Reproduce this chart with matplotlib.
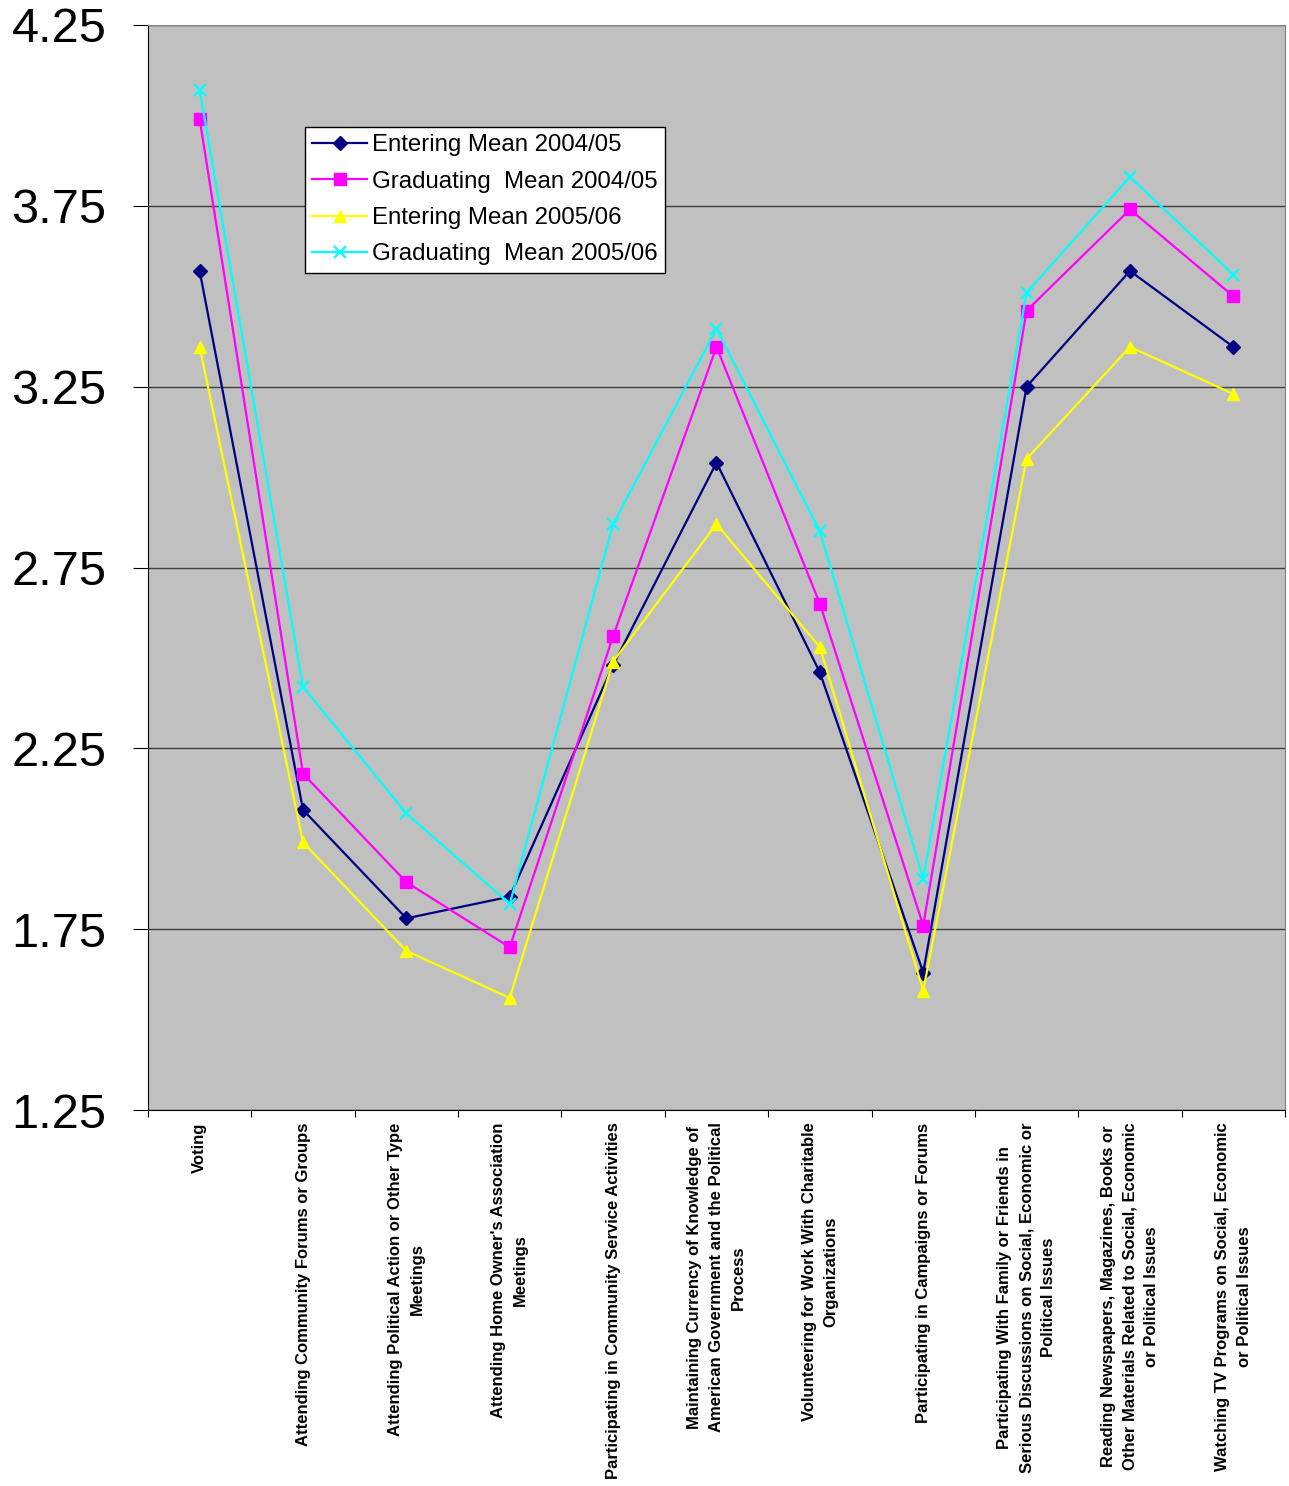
import numpy as np
import matplotlib.pyplot as plt
import matplotlib as mpl

mpl.rcParams['font.family'] = ['Liberation Sans', 'DejaVu Sans']

categories = [
    "Voting",
    "Attending Community Forums or Groups",
    "Attending Political Action or Other Type\nMeetings",
    "Attending Home Owner's Association\nMeetings",
    "Participating in Community Service Activities",
    "Maintaining Currency of Knowledge of\nAmerican Government and the Political\nProcess",
    "Volunteering for Work With Charitable\nOrganizations",
    "Participating in Campaigns or Forums",
    "Participating With Family or Friends in\nSerious Discussions on Social, Economic or\nPolitical Issues",
    "Reading Newspapers, Magazines, Books or\nOther Materials Related to Social, Economic\nor Political Issues",
    "Watching TV Programs on Social, Economic\nor Political Issues",
]

entering_0405 = [3.57, 2.08, 1.78, 1.84, 2.48, 3.04, 2.46, 1.63, 3.25, 3.57, 3.36]
graduating_0405 = [3.99, 2.18, 1.88, 1.70, 2.56, 3.36, 2.65, 1.76, 3.46, 3.74, 3.50]
entering_0506 = [3.36, 1.99, 1.69, 1.56, 2.49, 2.87, 2.53, 1.58, 3.05, 3.36, 3.23]
graduating_0506 = [4.07, 2.42, 2.07, 1.82, 2.87, 3.41, 2.85, 1.89, 3.51, 3.83, 3.56]

y_ticks = [1.25, 1.75, 2.25, 2.75, 3.25, 3.75, 4.25]

x = np.arange(len(categories))

fig = plt.figure(figsize=(12.89, 14.86), dpi=100)
ax = fig.add_axes([0.1148, 0.2530, 0.8821, 0.7302])
ax.set_facecolor('#C0C0C0')

ax.plot(x, entering_0405, color='#000080', marker='D', ms=7, lw=1.6,
        label='Entering Mean 2004/05')
ax.plot(x, graduating_0405, color='#FF00FF', marker='s', ms=8, lw=1.6,
        label='Graduating  Mean 2004/05')
ax.plot(x, entering_0506, color='#FFFF00', marker='^', ms=9, lw=1.6,
        label='Entering Mean 2005/06')
ax.plot(x, graduating_0506, color='#00FFFF', marker='x', ms=9, mew=1.6, lw=1.6,
        label='Graduating  Mean 2005/06')

ax.set_xlim(-0.5, len(categories) - 0.5)
ax.set_ylim(1.25, 4.25)
ax.set_yticks(y_ticks)
ax.set_yticklabels([f'{v:.2f}' for v in y_ticks], fontsize=35)
ax.tick_params(axis='y', length=11, width=0.8, pad=19)
ax.yaxis.grid(True, color='#404040', lw=1)
ax.set_axisbelow(True)

# boundary ticks between categories, labels on the centres
ax.set_xticks(np.arange(len(categories) + 1) - 0.5)
ax.set_xticklabels([])
ax.tick_params(axis='x', which='major', length=5, width=0.8)
ax.set_xticks(x, minor=True)
ax.set_xticklabels(categories, minor=True, rotation=90, fontsize=12,
                   fontweight='bold', va='top', ha='center',
                   multialignment='center', linespacing=1.55)
ax.tick_params(axis='x', which='minor', length=0, pad=9)

for side in ['left', 'bottom']:
    ax.spines[side].set_color('black')
for side in ['top', 'right']:
    ax.spines[side].set_color('#808080')

leg = ax.legend(loc='upper left', bbox_to_anchor=(0.138, 0.906), fontsize=17.3,
                frameon=True, fancybox=False, edgecolor='black',
                borderpad=0.3, labelspacing=0.6, handlelength=2.3,
                handletextpad=0.2, borderaxespad=0)
leg.get_frame().set_linewidth(1)
leg.get_frame().set_facecolor('white')
leg.get_frame().set_alpha(1)

fig.savefig('out.png', dpi=100)
